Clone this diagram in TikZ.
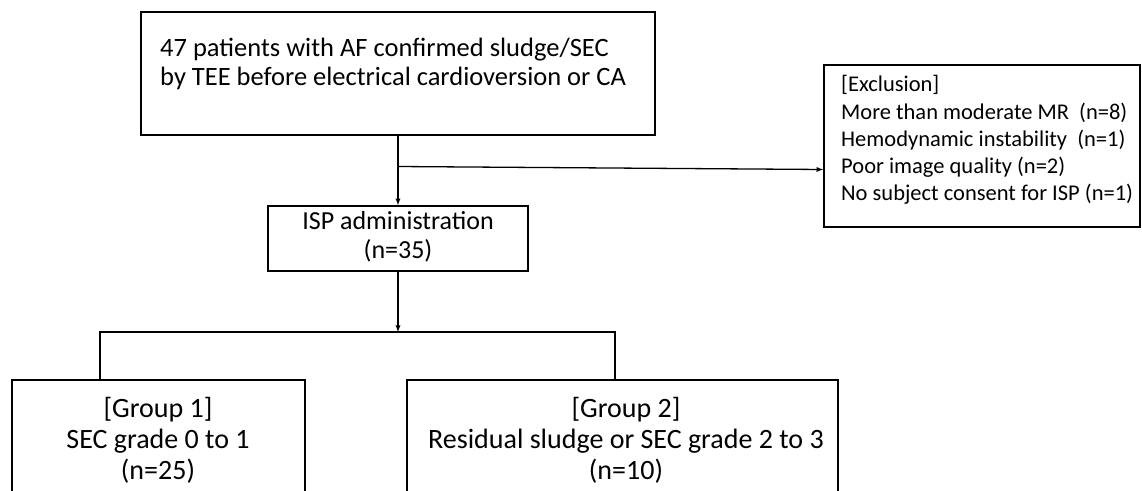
\documentclass[tikz,border=0pt]{standalone}
\usepackage{fontspec}
\setmainfont{Carlito}
\usetikzlibrary{arrows,positioning,calc}
\tikzset{>=latex}
\tikzset{
  box/.style={draw, line width=1.6pt, inner sep=0pt},
  txt/.style={inner sep=0pt, font=\fontsize{26}{28.5}\selectfont},
  toptxt/.style={inner sep=0pt, font=\fontsize{26.5}{29}\selectfont},
  grptxt/.style={inner sep=0pt, font=\fontsize{28}{31}\selectfont},
  smalltxt/.style={inner sep=0pt, font=\fontsize{22.5}{27.2}\selectfont},
  link/.style={line width=1.3pt}
}

\begin{document}
\begin{tikzpicture}[x=1pt,y=-1pt]
		\useasboundingbox (0,0) rectangle (1142,490);
		% boxes
		\node[box, minimum width=514pt, minimum height=123pt] (cohort) at (398,73.5) {};
		\node[toptxt, align=left, anchor=west] (cohorttext) at (160,64) {47 patients with AF confirmed sludge/SEC\\by TEE before electrical cardioversion or CA};
		\node[box, minimum width=316pt, minimum height=162pt] (excl) at (982,146) {};
		\node[smalltxt, align=left, anchor=west] (excltext) at (841,140) {[Exclusion]\\More than moderate MR~~(n=8)\\Hemodynamic instability~~(n=1)\\Poor image quality (n=2)\\No subject consent for ISP (n=1)};
		\node[box, minimum width=260pt, minimum height=65pt] (isp) at (398,238.5) {};
		\node[txt, align=center] (isptext) at (398,237) {ISP administration\\(n=35)};
		\node[box, minimum width=293pt, minimum height=140pt] (grpA) at (158.5,450) {};
		\node[grptxt, align=center] (grpAtext) at (158,440) {[Group 1]\\SEC grade 0 to 1\\(n=25)};
		\node[box, minimum width=431pt, minimum height=140pt] (grpB) at (622.5,450) {};
		\node[grptxt, align=center] (grpBtext) at (626,440) {[Group 2]\\Residual sludge or SEC grade 2 to 3\\(n=10)};
		% connectors
		\coordinate (fork) at (cohort.south |- 0,166.5);
		\coordinate (split) at (isp.south |- 0,332);
		\coordinate (splitA) at (100,332);
		\coordinate (splitB) at (615,332);
		\draw[link,->] (cohort.south) -- (isp.north);
		\draw[link,->] (fork) -- (excl.west |- 0,169.5);
		\draw[link,->] (isp.south) -- (split);
		\draw[link] (splitA |- grpA.north) -- (splitA) -- (splitB) -- (splitB |- grpB.north);
	\end{tikzpicture}
\end{document}
